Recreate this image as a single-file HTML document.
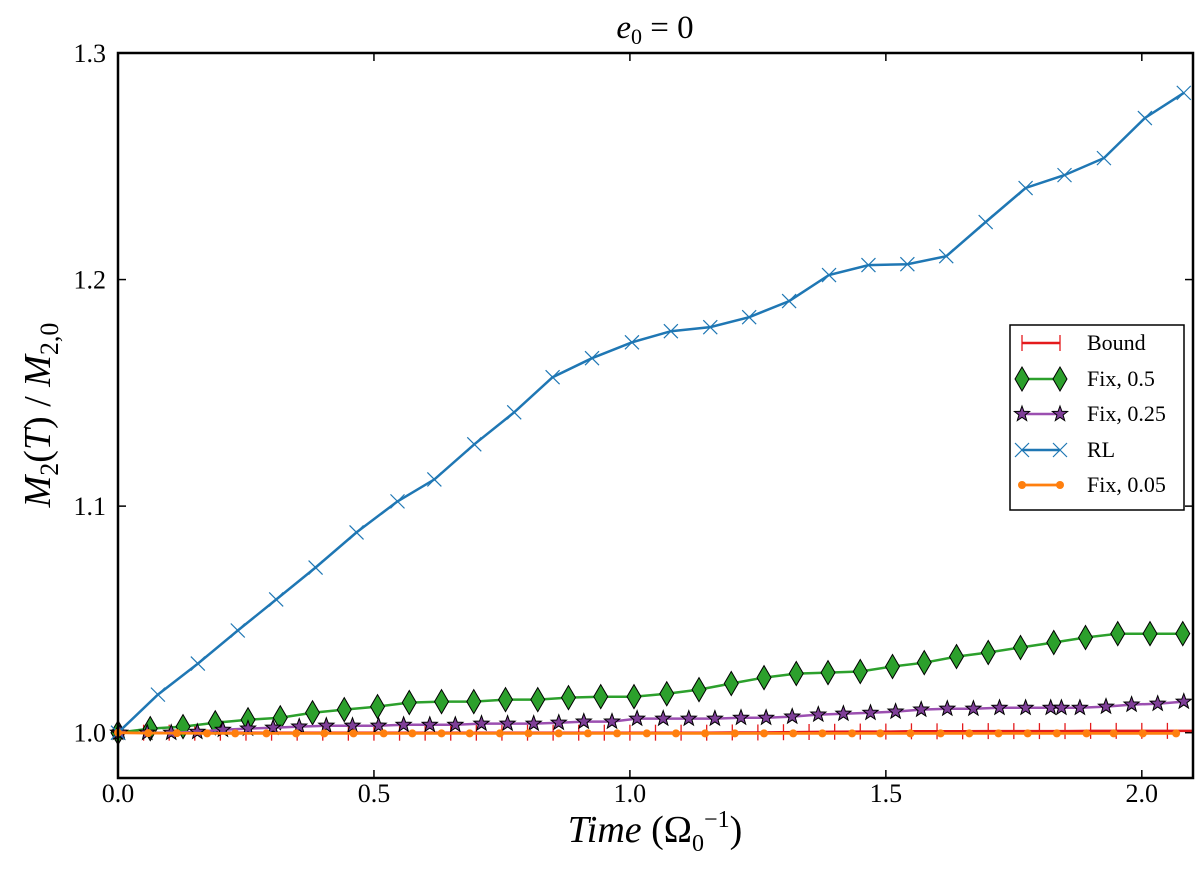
<!DOCTYPE html>
<html><head><meta charset="utf-8">
<style>
html,body{margin:0;padding:0;background:#fff;}
svg{display:block;font-family:"Liberation Serif",serif;}
</style></head>
<body>
<svg id="chart" width="1200" height="877" viewBox="0 0 1200 877" xmlns="http://www.w3.org/2000/svg">
  <text x="655" y="38" font-size="33" text-anchor="middle"><tspan font-style="italic">e</tspan><tspan font-size="22" dy="6">0</tspan><tspan dy="-6"> = 0</tspan></text>
  <text transform="translate(50,415) rotate(-90)" font-size="38" text-anchor="middle"><tspan font-style="italic">M</tspan><tspan font-size="26" dy="8">2</tspan><tspan dy="-8">(</tspan><tspan font-style="italic">T</tspan><tspan>) / </tspan><tspan font-style="italic">M</tspan><tspan font-size="26" dy="8">2,0</tspan></text>
  <text x="655" y="842" font-size="38" text-anchor="middle"><tspan font-style="italic">Time</tspan><tspan> (Ω</tspan><tspan font-size="24" dy="9">0</tspan><tspan font-size="24" dy="-24">−1</tspan><tspan dy="15">)</tspan></text>
  <g id="ticks"></g>
  <g id="plot"></g>
  <rect x="118" y="53" width="1075" height="725" fill="none" stroke="#000" stroke-width="2.5"/>
  <g id="legend"></g>
</svg>
<script>
const xTicks = [0.0, 0.5, 1.0, 1.5, 2.0];
const xTickLabels = ["0.0", "0.5", "1.0", "1.5", "2.0"];
const yTicks = [1.0, 1.1, 1.2, 1.3];
const yTickLabels = ["1.0", "1.1", "1.2", "1.3"];

const rlTime = [0,0.078,0.156,0.234,0.309,0.386,0.466,0.546,0.618,0.696,0.774,0.849,0.926,1.004,1.080,1.157,1.233,1.311,1.389,1.466,1.542,1.618,1.695,1.773,1.849,1.926,2.006,2.082];
const rlValue = [1.0,1.0168,1.0305,1.0451,1.0588,1.0729,1.0884,1.1021,1.1118,1.1273,1.1414,1.1569,1.1653,1.1723,1.1772,1.1790,1.1834,1.1905,1.2020,1.2064,1.2068,1.2103,1.2254,1.2404,1.2461,1.2536,1.2713,1.2824];

const fix05Time = [0,0.063,0.127,0.190,0.254,0.317,0.380,0.442,0.507,0.569,0.632,0.695,0.757,0.820,0.880,0.943,1.008,1.072,1.135,1.198,1.262,1.325,1.387,1.450,1.513,1.575,1.638,1.700,1.763,1.828,1.890,1.953,2.016,2.080];
const fix05Value = [1.0,1.0018,1.0027,1.0044,1.0057,1.0066,1.0088,1.0102,1.0115,1.0133,1.0137,1.0137,1.0146,1.0146,1.0155,1.0159,1.0159,1.0172,1.0190,1.0217,1.0243,1.0261,1.0265,1.0270,1.0292,1.0309,1.0336,1.0354,1.0376,1.0398,1.0420,1.0437,1.0437,1.0437];

const fix025Time = [0,0.004,0.057,0.104,0.155,0.205,0.254,0.303,0.354,0.407,0.458,0.509,0.558,0.609,0.659,0.710,0.761,0.812,0.861,0.910,0.965,1.014,1.065,1.115,1.166,1.217,1.266,1.317,1.368,1.417,1.470,1.519,1.569,1.620,1.671,1.722,1.773,1.822,1.843,1.879,1.930,1.980,2.031,2.082];
const fix025Value = [1,1,1,1,1.0004,1.0013,1.0018,1.0022,1.0027,1.0031,1.0031,1.0031,1.0035,1.0035,1.0035,1.004,1.004,1.004,1.0044,1.0049,1.0049,1.0062,1.0062,1.0062,1.0062,1.0066,1.0066,1.0071,1.008,1.0084,1.0088,1.0093,1.0102,1.0106,1.0106,1.011,1.011,1.011,1.011,1.011,1.0115,1.0124,1.0128,1.0137];

const fix005Time = [0,0.059,0.115,0.174,0.229,0.290,0.348,0.403,0.460,0.519,0.575,0.632,0.687,0.746,0.802,0.861,0.918,0.975,1.033,1.090,1.147,1.205,1.262,1.319,1.376,1.434,1.489,1.548,1.607,1.663,1.720,1.777,1.834,1.892,1.945,2.002,2.067];
const fix005Value = [1.0,0.9998,0.9998,0.9997,0.9997,0.9997,0.9997,0.9997,0.9997,0.9997,0.9997,0.9997,0.9997,0.9997,0.9997,0.9997,0.9997,0.9997,0.9997,0.9997,0.9997,0.9997,0.9997,0.9997,0.9997,0.9997,0.9997,0.9997,0.9997,0.9997,0.9997,0.9997,0.9997,0.9997,0.9997,0.9997,0.9997];

const boundTime = [0,0.05,0.10,0.15,0.20,0.25,0.30,0.35,0.40,0.45,0.50,0.55,0.60,0.65,0.70,0.75,0.80,0.85,0.90,0.95,1.00,1.05,1.10,1.15,1.20,1.25,1.30,1.35,1.40,1.45,1.50,1.55,1.60,1.65,1.70,1.75,1.80,1.85,1.90,1.95,2.00,2.05,2.10];
const boundValue = [1.0,1.0,1.0,1.0,1.0,1.0,1.0,1.0,1.0,1.0,1.0,1.0,1.0,1.0,1.0,1.0,1.0,1.0,1.0,1.0,1.0,1.0,1.0,1.0,1.0001,1.0001,1.0002,1.0003,1.0004,1.0005,1.0005,1.0006,1.0006,1.0006,1.0007,1.0007,1.0007,1.0007,1.0008,1.0008,1.0008,1.0008,1.0008];

const X0 = 118, X1 = 1193, Y0 = 53, Y1 = 778;
const xMin = 0, xMax = 2.1, yMin = 0.98, yMax = 1.3;
function xs(t){ return X0 + (t - xMin) / (xMax - xMin) * (X1 - X0); }
function ys(v){ return Y1 - (v - yMin) / (yMax - yMin) * (Y1 - Y0); }

const NS = "http://www.w3.org/2000/svg";
function mk(tag, attrs, parent){
  const e = document.createElementNS(NS, tag);
  for (const k in attrs) e.setAttribute(k, attrs[k]);
  parent.appendChild(e);
  return e;
}
const ticksG = document.getElementById('ticks');
xTicks.forEach((t, i) => {
  const x = xs(t);
  const a = mk('line', {x1:x, y1:Y1, x2:x, y2:Y1-8, stroke:'#000', 'stroke-width':1.5}, ticksG);
  
  
  const b = mk('line', {x1:x, y1:Y0, x2:x, y2:Y0+8, stroke:'#000', 'stroke-width':1.5}, ticksG);
  
  
  const l = mk('text', {x:x, y:802, 'font-size':26, 'text-anchor':'middle'}, ticksG);
  l.textContent = xTickLabels[i];
  
  
});
yTicks.forEach((v, i) => {
  const y = ys(v);
  const a = mk('line', {x1:X0, y1:y, x2:X0+8, y2:y, stroke:'#000', 'stroke-width':1.5}, ticksG);
  
  
  const b = mk('line', {x1:X1, y1:y, x2:X1-8, y2:y, stroke:'#000', 'stroke-width':1.5}, ticksG);
  
  
  const l = mk('text', {x:106, y:y+9, 'font-size':26, 'text-anchor':'end'}, ticksG);
  l.textContent = yTickLabels[i];
  
  
});

function marker(kind, x, y, parent){
  let e;
  if (kind === 'bar') {
    e = mk('line', {x1:x, y1:y-8, x2:x, y2:y+8, stroke:'#e41a1c', 'stroke-width':1.3}, parent);
  } else if (kind === 'diamond') {
    e = mk('polygon', {points:`${x},${y-12} ${x+7},${y} ${x},${y+12} ${x-7},${y}`, fill:'#2ca02c', stroke:'#000', 'stroke-width':1}, parent);
  } else if (kind === 'star') {
    let p = [];
    for (let k = 0; k < 10; k++) {
      const r = k % 2 ? 3.3 : 8, a = -Math.PI/2 + k*Math.PI/5;
      p.push((x + r*Math.cos(a)).toFixed(1) + ',' + (y + r*Math.sin(a)).toFixed(1));
    }
    e = mk('polygon', {points:p.join(' '), fill:'#7f3f98', stroke:'#000', 'stroke-width':1}, parent);
  } else if (kind === 'x') {
    e = mk('path', {d:`M${x-7},${y-7}L${x+7},${y+7}M${x-7},${y+7}L${x+7},${y-7}`, stroke:'#1f77b4', 'stroke-width':1.2, fill:'none'}, parent);
  } else {
    e = mk('circle', {cx:x, cy:y, r:4, fill:'#ff7f0e'}, parent);
  }
  return e;
}

const plotG = document.getElementById('plot');
const series = [
  {name:'bound', t:boundTime, v:boundValue, color:'#e41a1c', m:'bar', w:2.5},
  {name:'fix-0-5', t:fix05Time, v:fix05Value, color:'#2ca02c', m:'diamond', w:2.5},
  {name:'fix-0-25', t:fix025Time, v:fix025Value, color:'#9b4fb0', m:'star', w:2.5},
  {name:'rl', t:rlTime, v:rlValue, color:'#1f77b4', m:'x', w:2.5},
  {name:'fix-0-05', t:fix005Time, v:fix005Value, color:'#ff7f0e', m:'dot', w:2.8}
];
series.forEach(s => {
  const g = mk('g', {}, plotG);
  
  
  const pts = s.t.map((t, i) => xs(t).toFixed(1) + ',' + ys(s.v[i]).toFixed(1)).join(' ');
  const line = mk('polyline', {points:pts, fill:'none', stroke:s.color, 'stroke-width':s.w}, g);
  
  
  s.t.forEach((t, i) => {
    const m = marker(s.m, xs(t), ys(s.v[i]), g);
    
    
  });
});

const legG = document.getElementById('legend');
const box = mk('rect', {x:1010, y:325, width:174, height:185, fill:'#fff', stroke:'#000', 'stroke-width':1.5}, legG);


const legendLabels = ['Bound', 'Fix, 0.5', 'Fix, 0.25', 'RL', 'Fix, 0.05'];
const legendY = [343, 379, 414, 450, 485];
series.forEach((s, i) => {
  const g = mk('g', {}, legG);
  
  
  const y = legendY[i];
  mk('line', {x1:1022, y1:y, x2:1060, y2:y, stroke:s.color, 'stroke-width':s.w}, g);
  marker(s.m, 1022, y, g);
  marker(s.m, 1060, y, g);
  const tx = mk('text', {x:1087, y:y+7, 'font-size':22}, g);
  tx.textContent = legendLabels[i];
});
</script>
</body></html>
